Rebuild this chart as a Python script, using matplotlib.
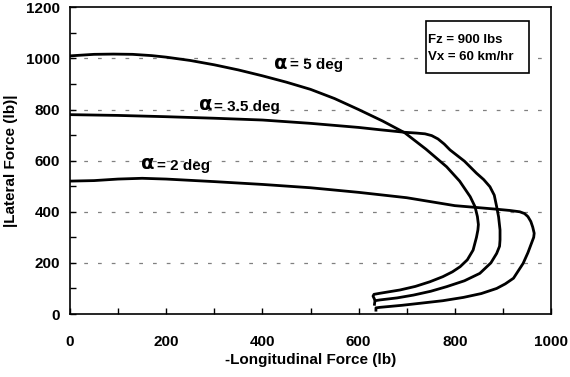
import numpy as np
import matplotlib.pyplot as plt

plt.rcParams['font.family'] = ['Liberation Sans', 'DejaVu Sans']
plt.rcParams['font.weight'] = 'bold'

# alpha = 5 deg
x5 = [0, 25, 50, 90, 130, 170, 200, 250, 300, 350, 400, 450, 500, 550, 600, 650, 696, 740,
      783, 810, 832, 842, 847, 849, 848, 845, 838, 826, 811, 795, 775, 748, 718, 686, 660,
      644, 632, 630, 633]
y5 = [1010, 1013, 1016, 1017, 1016, 1011, 1005, 992, 975, 955, 932, 907, 879, 843, 800, 755,
      709, 645, 576, 520, 459, 420, 381, 350, 329, 300, 250, 212, 185, 165, 146, 126, 108, 94,
      86, 81, 77, 70, 58]

# alpha = 3.5 deg
x35 = [0, 100, 200, 300, 400, 500, 600, 644, 696, 720, 738, 752, 765, 778, 790, 805, 820, 845,
       860, 873, 882, 887, 891, 894, 894, 893, 887, 875, 852, 820, 783, 750, 714, 680, 644,
       634, 633]
y35 = [780, 777, 772, 766, 759, 746, 730, 721, 711, 708, 705, 698, 685, 665, 642, 620, 598, 551,
       526, 498, 465, 420, 380, 329, 290, 265, 237, 200, 159, 130, 107, 89, 74, 63, 55, 52, 38]

# alpha = 2 deg
x2 = [0, 50, 100, 150, 200, 250, 300, 400, 500, 600, 700, 800, 850, 887, 915, 935, 945, 952,
      958, 962, 965, 964, 960, 952, 942, 922, 905, 887, 855, 818, 775, 728, 690, 644, 636, 636]
y2 = [520, 522, 528, 531, 528, 523, 518, 507, 494, 476, 455, 424, 416, 410, 405, 400, 393, 381,
      362, 340, 316, 300, 280, 240, 198, 140, 118, 100, 80, 65, 52, 42, 34, 26, 24, 15]

fig = plt.figure(figsize=(5.7, 3.77), dpi=100)
ax = fig.add_axes([0.1228, 0.1671, 0.8439, 0.8135])

for yv in [200, 400, 600, 800, 1000]:
    ax.axhline(yv, color='#808080', lw=0.9, dashes=(3, 8), zorder=1)

for xs, ys in [(x5, y5), (x35, y35), (x2, y2)]:
    ax.plot(xs, ys, color='black', lw=2, zorder=3, solid_joinstyle='round')

ax.set_xlim(0, 1000)
ax.set_ylim(0, 1200)
ax.set_xticks(np.arange(0, 1001, 200))
ax.set_yticks(np.arange(0, 1201, 200))
ax.set_xticks(np.arange(100, 1000, 200), minor=True)
ax.set_yticks(np.arange(100, 1200, 200), minor=True)
ax.tick_params(axis='both', which='both', direction='in', length=4, width=1, labelsize=11)
ax.tick_params(axis='x', which='major', pad=15)
ax.tick_params(axis='y', which='major', pad=7)
for lab in ax.get_xticklabels() + ax.get_yticklabels():
    lab.set_fontweight('bold')
for s in ax.spines.values():
    s.set_linewidth(1.2)

ax.set_xlabel('-Longitudinal Force (lb)', fontsize=11, fontweight='bold', labelpad=3)
ax.set_ylabel('|Lateral Force (lb)|', fontsize=11, fontweight='bold', labelpad=6)

# curve labels
labels = [(425, 974, '= 5 deg'), (268, 811, '= 3.5 deg'), (148, 580, '= 2 deg')]
for lx, ly, txt in labels:
    ax.text(lx, ly + 8, 'α', fontsize=14, fontweight='bold', va='center', ha='left',
            family=['DejaVu Sans'])
    ax.text(lx + 32, ly, txt, fontsize=11, fontweight='bold', va='center', ha='left')

# condition box
ax.add_patch(plt.Rectangle((740, 944), 215, 204, facecolor='white', edgecolor='black',
                           lw=1.2, zorder=4))
ax.text(744, 1072, 'Fz = 900 lbs', fontsize=9.5, fontweight='bold', va='center', ha='left',
        zorder=5)
ax.text(744, 1004, 'Vx = 60 km/hr', fontsize=9.5, fontweight='bold', va='center', ha='left',
        zorder=5)

fig.savefig('out.png', dpi=100)
